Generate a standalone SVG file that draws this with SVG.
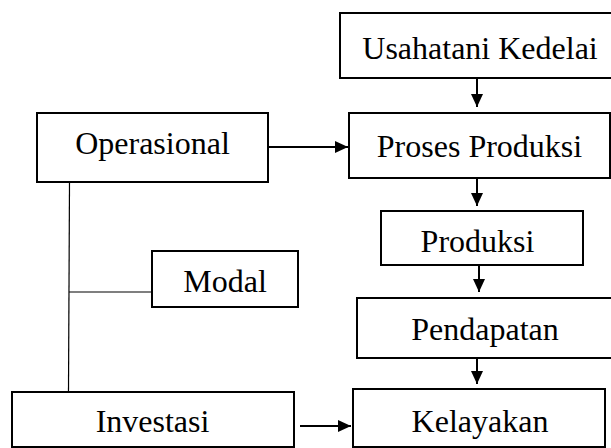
<svg xmlns="http://www.w3.org/2000/svg" width="611" height="448" viewBox="0 0 611 448">
<style>
.box{fill:#fff;stroke:#000;stroke-width:2}
.lbl{font-family:"Liberation Serif","Times New Roman",serif;font-size:32px;fill:#000;text-anchor:middle}
.arr{stroke:#000;stroke-width:2;fill:none;marker-end:url(#ah)}
.thin{stroke:#000;stroke-width:1.2;fill:none}
</style>
<defs>
<marker id="ah" markerUnits="userSpaceOnUse" markerWidth="13" markerHeight="12" refX="13" refY="6" orient="auto">
<path d="M0,0 L13,6 L0,12 z" fill="#000"/>
</marker>
</defs>
<rect width="611" height="448" fill="#fff"/>
<g id="connectors">
<line class="arr" x1="477" y1="79" x2="477" y2="107"/>
<line class="arr" x1="477" y1="179" x2="477" y2="206"/>
<line class="arr" x1="479" y1="266" x2="479" y2="292"/>
<line class="arr" x1="477" y1="359" x2="477" y2="384"/>
<line class="arr" x1="269" y1="147" x2="348" y2="147"/>
<line class="arr" x1="300" y1="426" x2="351" y2="426"/>
<line class="thin" x1="69.5" y1="183" x2="68.5" y2="391"/>
<line class="thin" x1="69" y1="292" x2="152" y2="292"/>
</g>
<g id="usahatani">
<rect class="box" x="340" y="13" width="275" height="65"/>
<text class="lbl" x="480" y="59">Usahatani Kedelai</text>
</g>
<g id="operasional">
<rect class="box" x="37" y="113" width="231" height="69"/>
<text class="lbl" x="152.5" y="154">Operasional</text>
</g>
<g id="proses">
<rect class="box" x="349" y="113" width="261" height="65"/>
<text class="lbl" x="479.5" y="157">Proses Produksi</text>
</g>
<g id="produksi">
<rect class="box" x="381" y="211" width="202" height="54"/>
<text class="lbl" x="477.5" y="252">Produksi</text>
</g>
<g id="modal">
<rect class="box" x="152" y="251" width="146" height="56"/>
<text class="lbl" x="225" y="292">Modal</text>
</g>
<g id="pendapatan">
<rect class="box" x="357" y="298" width="260" height="60"/>
<text class="lbl" x="485" y="340">Pendapatan</text>
</g>
<g id="investasi">
<rect class="box" x="12" y="392" width="282" height="55"/>
<text class="lbl" x="152.5" y="432">Investasi</text>
</g>
<g id="kelayakan">
<rect class="box" x="353" y="389" width="252" height="58"/>
<text class="lbl" x="480" y="432">Kelayakan</text>
</g>
</svg>
